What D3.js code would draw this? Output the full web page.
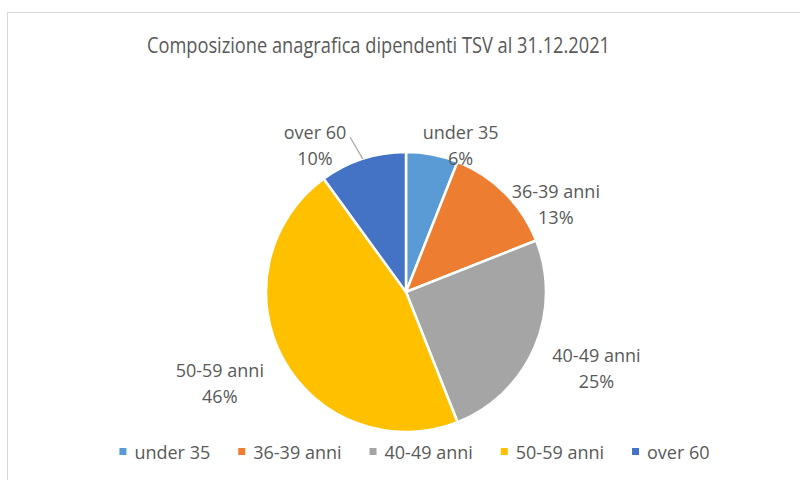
<!DOCTYPE html>
<html lang="it">
<meta charset="utf-8">
<style>
  body {
    margin: 0;
    background: #fff;
    font-family: 'Open Sans', sans-serif;
  }
  .slices path {
    stroke: #fff;
    stroke-width: 2.5;
  }
  .label, .legend text {
    fill: #595959;
    font-size: 18px;
  }
</style>
<body>
<div id="chart"></div>

<script src="https://cdnjs.cloudflare.com/ajax/libs/d3/7.8.5/d3.min.js"></script>
<script>

// data
var categories = ["under 35", "36-39 anni", "40-49 anni", "50-59 anni", "over 60"];
var shares = [6, 13, 25, 46, 10];
var colors = ["#5b9bd5", "#ed7d31", "#a5a5a5", "#ffc000", "#4472c4"];
var title = "Composizione anagrafica dipendenti TSV al 31.12.2021";

// size of the graphic
var width = 800,
    height = 480;

var cx = 406, cy = 292, radius = 140;

// where Excel put each data label, relative to pie centre (in radius units)
var labelOffset = [[0.39, -1.05], [1.07, -0.63], [1.36, 0.54], [-1.33, 0.65], [-0.65, -1.05]];

var svg = d3.select("#chart").append("svg")
    .attr("width", width)
    .attr("height", height);

// chart area frame
svg.append("rect")
    .attr("x", 7.5)
    .attr("y", 12.5)
    .attr("width", width + 20)
    .attr("height", height + 20)
    .attr("fill", "#fff")
    .attr("stroke", "#d9d9d9");

svg.append("text")
    .attr("x", 378.5)
    .attr("y", 53)
    .attr("text-anchor", "middle")
    .attr("textLength", 463)
    .attr("lengthAdjust", "spacingAndGlyphs")
    .style("font-family", "'Liberation Sans Narrow', 'Open Sans', sans-serif")
    .style("font-size", "21px")
    .style("fill", "#595959")
    .text(title);

var pie = d3.pie().sort(null).value(function(d) { return d; });
var arcs = pie(shares);

var arc = d3.arc().innerRadius(0).outerRadius(radius);
var edge = d3.arc().innerRadius(radius).outerRadius(radius);

var g = svg.append("g")
    .attr("transform", "translate(" + cx + "," + cy + ")");

g.append("g")
    .attr("class", "slices")
  .selectAll("path")
    .data(arcs)
  .enter().append("path")
    .attr("d", arc)
    .style("fill", function(d, i) { return colors[i]; });

// leader line for the small "over 60" label
var last = arcs.length - 1;
var p = edge.centroid(arcs[last]);
var lo = labelOffset[last];
g.append("line")
    .attr("x1", lo[0] * radius + 35)
    .attr("y1", lo[1] * radius - 8)
    .attr("x2", p[0])
    .attr("y2", p[1])
    .attr("stroke", "#a6a6a6")
    .attr("stroke-width", 1.2);

var labels = g.selectAll(".label")
    .data(arcs)
  .enter().append("text")
    .attr("class", "label")
    .attr("text-anchor", "middle")
    .attr("transform", function(d, i) {
      return "translate(" + labelOffset[i][0] * radius + "," + labelOffset[i][1] * radius + ")";
    });

labels.append("tspan")
    .attr("x", 0)
    .attr("y", -13)
    .attr("dominant-baseline", "central")
    .text(function(d, i) { return categories[i]; });

labels.append("tspan")
    .attr("x", 0)
    .attr("y", 13)
    .attr("dominant-baseline", "central")
    .text(function(d) { return d.data + "%"; });

// legend
var legend = svg.append("g").attr("class", "legend");
var items = legend.selectAll("g")
    .data(categories)
  .enter().append("g");

items.append("rect")
    .attr("width", 7)
    .attr("height", 7)
    .attr("y", -4)
    .style("fill", function(d, i) { return colors[i]; });

items.append("text")
    .attr("x", 15)
    .attr("dominant-baseline", "central")
    .text(function(d) { return d; });

var xpos = 0;
items.each(function() {
  var w = this.getBBox().width;
  d3.select(this).attr("transform", "translate(" + xpos + ",0)");
  xpos += w + 28;
});
var total = xpos - 28;
legend.attr("transform", "translate(" + (414.5 - total / 2) + ",452)");

</script>
</body>
</html>
